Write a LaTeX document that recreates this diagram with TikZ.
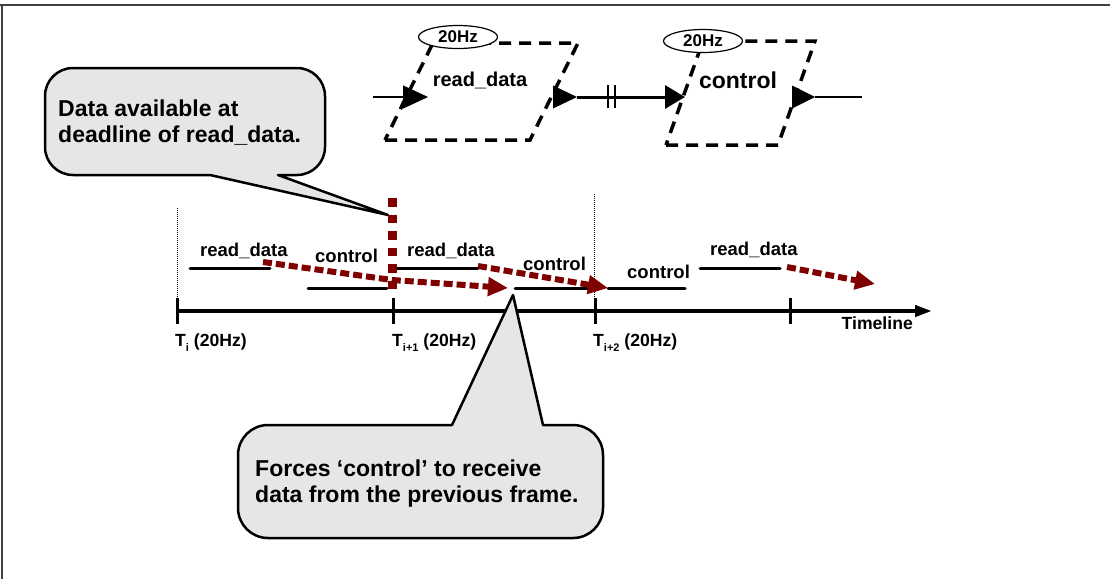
\documentclass[tikz,border=0pt]{standalone}
\usepackage{xcolor}
\usepackage{fontspec}
\setmainfont{Liberation Sans}
\usepackage{tikz}
\usetikzlibrary{calc}
\usetikzlibrary{arrows.meta}
\usetikzlibrary{shapes.geometric}

\definecolor{deadred}{RGB}{128,0,0}
\definecolor{notegray}{RGB}{230,230,230}
\newcommand{\lowidx}[1]{\raisebox{-5pt}{\fontsize{11}{11}\selectfont #1}}

\tikzset{
	txt/.style={inner sep=0pt,font=\bfseries\fontsize{#1}{#1}\selectfont},
	notetext/.style={inner sep=0pt,align=left,font=\bfseries\fontsize{23}{26}\selectfont},
	taskbox/.style={line width=3.5pt,dash pattern=on 12pt off 8pt},
	rate/.style={ellipse,draw,fill=white,line width=1.2pt,minimum width=79pt,minimum height=23pt,txt=17},
	bar/.style={line width=3pt,line cap=round},
	late/.style={deadred,line width=6pt,dash pattern=on 9pt off 4pt,-{Triangle[length=20pt,width=18pt]}},
	deadline/.style={deadred,line width=9pt,dash pattern=on 8.5pt off 8pt},
	guide/.style={line width=1pt,dash pattern=on 1pt off 1pt},
	note/.style={fill=notegray,draw=black,line width=2.5pt,line join=round}
}

\begin{document}
\begin{tikzpicture}[x=1pt,y=-1pt]
	\useasboundingbox (0,0) rectangle (1110,579);
	\draw[line width=2pt,black!75] (0,5) -- (1110,5) (1.5,5) -- (1.5,579);

	% the two tasks
	\draw[taskbox] (385,140) -- (530,140) -- (578,43) -- (433,43) -- cycle;
	\draw[taskbox] (666,145) -- (778,145) -- (815,41) -- (703,41) -- cycle;
	\node[rate] (hz1) at (458,37) {20Hz};
	\node[rate] (hz2) at (703,41) {20Hz};
	\node[txt=20,anchor=base] (rd) at (480,86) {read\_data};
	\node[txt=23,anchor=base] (ctl) at (738,88) {control};

	\coordinate (src) at (373,97);
	\coordinate (rdin) at (428,97);
	\coordinate (rdout) at (553,97);
	\coordinate (ctlin) at (685,97);
	\coordinate (ctlout) at (792,97);
	\coordinate (sink) at (862,97);
	\draw[line width=1.2pt,-{Triangle[length=25pt,width=23pt]}] (src) -- (rdin);
	\fill (rdout) ++(0,-11.5) -- ++(24,11.5) -- ++(-24,11.5) -- cycle;
	\draw[line width=3pt,-{Triangle[length=20pt,width=23pt]}] ($(rdout)+(24,0)$) -- (ctlin);
	\draw[line width=2pt] (608,85) -- (608,108) (615,85) -- (615,108);
	\fill (ctlout) ++(0,-11.5) -- ++(23,11.5) -- ++(-23,11.5) -- cycle;
	\draw[line width=1.2pt] ($(ctlout)+(23,0)$) -- (sink);

	% timeline
	\coordinate (t0) at (177,311);
	\coordinate (t1) at (393,311);
	\coordinate (t2) at (595,311);
	\coordinate (t3) at (790,311);
	\coordinate (tend) at (932,311);
	\draw[guide] (177,208) -- (t0);
	\draw[guide] (594,194) -- (594,300);
	\draw[line width=4pt,-{Triangle[length=17pt,width=11pt]}] (t0) -- (tend);
	\foreach \t in {t0,t1,t2,t3}
		\draw[line width=3pt] ($(\t)+(0,-13)$) -- ($(\t)+(0,13)$);
	\node[txt=17.6,anchor=base east] (tl) at (913,329) {Timeline};
	\node[txt=17.6,anchor=base west] (l0) at ($(t0)+(-2,35)$) {T\lowidx{i} (20Hz)};
	\node[txt=17.6,anchor=base west] (l1) at ($(t1)+(-1,35)$) {T\lowidx{i+1} (20Hz)};
	\node[txt=17.6,anchor=base west] (l2) at ($(t2)+(-2,35)$) {T\lowidx{i+2} (20Hz)};

	% jobs
	\draw[bar] (190,268) coordinate (rd1a) -- (270,268) coordinate (rd1b);
	\draw[bar] (308,288) coordinate (c1a) -- (387,288) coordinate (c1b);
	\draw[bar] (397,268) coordinate (rd2a) -- (478,268) coordinate (rd2b);
	\draw[bar] (515,288) coordinate (c2a) -- (593,288) coordinate (c2b);
	\draw[bar] (608,288) coordinate (c3a) -- (685,288) coordinate (c3b);
	\draw[bar] (700,268) coordinate (rd3a) -- (780,268) coordinate (rd3b);
	\node[txt=18.5,anchor=base west] (rd1) at (200,256) {read\_data};
	\node[txt=18.5,anchor=base west] (c1) at (315,262) {control};
	\node[txt=18.5,anchor=base west] (rd2) at (407,256) {read\_data};
	\node[txt=18.5,anchor=base west] (c2) at (523,270) {control};
	\node[txt=18.5,anchor=base west] (c3) at (627,278) {control};
	\node[txt=18.5,anchor=base west] (rd3) at (710,255) {read\_data};

	% data flow
	\coordinate (dl) at (392,198);
	\coordinate (dlend) at (392,293);
	\coordinate (dltip) at (388,215);
	\coordinate (ctltip) at (513,295);
	\filldraw[note] (210,175) -- (dltip) -- (278,175) [rounded corners=28pt] -- (325,175) -- (325,68) -- (45,68) -- (45,175) [sharp corners] -- cycle;
	\draw[late] ($(rd1b)+(-7,-6)$) -- (392,280) -- ($(c2a)+(-7,0)$);
	\draw[late] ($(rd2b)+(0,-2)$) -- (c3a);
	\draw[late] ($(rd3b)+(7,-1)$) -- (875,284);
	\draw[deadline] (dl) -- (dlend);
	\filldraw[note] (452,425) -- (ctltip) -- (543,425) [rounded corners=30pt] -- (603,425) -- (603,538) -- (238,538) -- (238,425) [sharp corners] -- cycle;
	\node[notetext,anchor=north west] (note1) at (58,100) {Data available at\\deadline of read\_data.};
	\node[notetext,anchor=north west] (note2) at (255,460) {Forces ‘control’ to receive\\data from the previous frame.};
\end{tikzpicture}
\end{document}
